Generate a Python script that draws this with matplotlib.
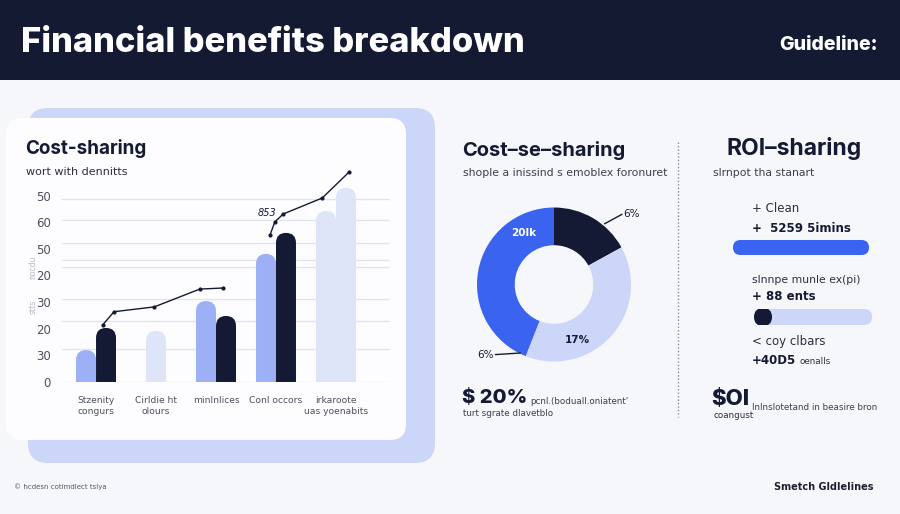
import numpy as np
import matplotlib.pyplot as plt
from matplotlib.patches import FancyBboxPatch, Rectangle

# bar chart (left card)
categories = ["Stzenity\ncongurs", "Cirldie ht\nolours", "minlnlices", "Conl occors", "irkaroote\nuas yoenabits"]
primary = [12.0, 19.2, 30.4, 48.1, 64.2]
secondary = [20.3, np.nan, 24.8, 56.0, 72.9]
faded = [False, True, False, False, True]
ytick_labels = ["0", "30", "20", "30", "20", "50", "60", "50"]
grid_levels = [68.8, 60.9, 52.3, 45.9, 43.2, 31.2, 22.9, 12.4, 0]
trend_a_x = [0.11, 0.30, 0.97, 1.73, 2.12]
trend_a_y = [21.4, 26.4, 28.2, 34.9, 35.3]
trend_b_x = [2.90, 2.98, 3.12, 3.77, 4.22]
trend_b_y = [55.2, 60.1, 63.1, 69.1, 78.9]

# donut (middle)
donut_values = [17, 39, 44]
donut_labels = ["6%", "17%", "20lk", "6%"]

# progress bars (right)
roi_progress = [100, 7]

NAVY = "#141a33"
BLUE = "#3a63ef"
LIGHT = "#9db0f5"
PALE = "#dfe5f8"
LAV = "#cbd6f8"
BG = "#f6f7fb"

fig = plt.figure(figsize=(9, 5.14), dpi=100)
fig.patch.set_facecolor(BG)


def px_axes(x, y, w, h, **kw):
    return fig.add_axes([x / 900, 1 - (y + h) / 514, w / 900, h / 514], **kw)


def px_per_unit(ax):
    (a0, b0), (a1, b1) = ax.transData.transform([(0, 0), (1, 1)])
    return a1 - a0, b1 - b0


def round_bar(ax, x0, y0, w, h, r_px, **kw):
    # radius in pixels -> data units on both axes
    sx, sy = px_per_unit(ax)
    rx, ry = r_px / sx, r_px / sy
    p = FancyBboxPatch((x0, y0), w, h, boxstyle=f"round,pad=0,rounding_size={rx}",
                       mutation_aspect=ry / rx, linewidth=0, **kw)
    ax.add_patch(p)


# background layer in pixel units
bg = px_axes(0, 0, 900, 514)
bg.set_xlim(0, 900)
bg.set_ylim(514, 0)
bg.axis("off")
bg.add_patch(Rectangle((0, 0), 900, 80, color="#151a33", lw=0))
bg.add_patch(FancyBboxPatch((28, 108), 407, 355, boxstyle="round,pad=0,rounding_size=20", color=LAV, lw=0))
bg.add_patch(FancyBboxPatch((6, 118), 400, 322, boxstyle="round,pad=0,rounding_size=16", color="#fdfdff", lw=0))
bg.plot([678, 678], [142, 417], color="#8a8e99", lw=1, ls=(0, (1, 1.5)))

TF = "Inter"
bg.text(21, 43, "Financial benefits breakdown", color="white", fontsize=24.8, fontweight="heavy",
        family=TF, va="center")
bg.text(878, 45, "Guideline:", color="white", fontsize=14, fontweight="heavy", family=TF,
        va="center", ha="right")

bg.text(25, 149, "Cost-sharing", color=NAVY, fontsize=13.6, fontweight="bold", family=TF, va="center")
bg.text(26, 172, "wort with dennitts", color="#2c3040", fontsize=8, va="center")
bg.text(33, 267, "nocdu", color="#b5b9c5", fontsize=5.5, rotation=90, va="center", ha="center")
bg.text(33, 307, "stts", color="#b5b9c5", fontsize=5.5, rotation=90, va="center", ha="center")

bg.text(462, 150, "Cost\u2013se\u2013sharing", color=NAVY, fontsize=14.5, fontweight="bold", family=TF, va="center")
bg.text(463, 173, "shople a inissind s emoblex foronuret", color="#3c404c", fontsize=7.8, va="center")
bg.text(462, 398, "$ 20%", color=NAVY, fontsize=14.5, fontweight="heavy", family=TF, va="center")
bg.text(530, 402, "pcnl.(boduall.oniatent'", color="#3c404c", fontsize=6.3, va="center")
bg.text(463, 414, "turt sgrate dlavetblo", color="#3c404c", fontsize=6.3, va="center")

bg.text(726, 149, "ROI\u2013sharing", color=NAVY, fontsize=16.5, fontweight="bold", family=TF, va="center")
bg.text(713, 173, "slrnpot tha stanart", color="#3c404c", fontsize=7.8, va="center")
bg.text(752, 209, "+ Clean", color="#2c3040", fontsize=8.5, va="center")
bg.text(752, 228, "+  5259 5imins", color=NAVY, fontsize=8.5, fontweight="bold", va="center")
bg.text(752, 280, "slnnpe munle ex(pi)", color="#2c3040", fontsize=7.8, va="center")
bg.text(752, 297, "+ 88 ents", color=NAVY, fontsize=8.5, fontweight="bold", va="center")
bg.text(752, 342, "< coy clbars", color="#2c3040", fontsize=8.5, va="center")
bg.text(752, 360, "+40D5", color=NAVY, fontsize=8.5, fontweight="bold", va="center")
bg.text(799, 361, "oenalls", color="#2c3040", fontsize=6.3, va="center")
bg.text(711, 399, "$OI", color=NAVY, fontsize=16, fontweight="heavy", family=TF, va="center")
bg.text(713, 415, "coangust", color="#2c3040", fontsize=6.3, va="center")
bg.text(752, 407, "lnlnslotetand in beasire bron", color="#3c404c", fontsize=6.3, va="center")

bg.text(14, 487, "\u00a9 hcdesn cotimdlect tslya", color="#555966", fontsize=5, va="center")
bg.text(873, 487, "Smetch Gldlelines", color="#1d2030", fontsize=7, fontweight="bold", va="center", ha="right")

# bar chart
ax = px_axes(62, 169, 328, 213)
ax.set_facecolor("none")
ax.set_xlim(-0.567, 4.9)
ax.set_ylim(0, 80)
for s in ax.spines.values():
    s.set_visible(False)
for g in grid_levels:
    ax.axhline(g, color="#e2e4eb", lw=1, zorder=0)
ax.set_yticks(np.arange(0, 80, 10), ytick_labels)
ax.set_xticks(range(len(categories)), categories)
ax.tick_params(length=0, labelsize=8.5, labelcolor="#4d5160", pad=8)
ax.tick_params(axis="x", labelsize=6.6, pad=10)
for lab in ax.get_xticklabels():
    lab.set_linespacing(1.3)

bw = 0.333
ry = 10 / px_per_unit(ax)[1]
for i, (a, b) in enumerate(zip(primary, secondary)):
    ca = PALE if faded[i] else LIGHT
    cb = PALE if faded[i] else NAVY
    if np.isnan(b):
        xs = [(i, a, ca)]
    else:
        xs = [(i - bw / 2, a, ca), (i + bw / 2, b, cb)]
    for xc, v, c in xs:
        round_bar(ax, xc - bw / 2, -ry, bw, v + ry, 10, color=c, zorder=2)

ax.plot(trend_a_x, trend_a_y, color=NAVY, lw=1, marker="o", ms=2, zorder=3, clip_on=False)
ax.plot(trend_b_x, trend_b_y, color=NAVY, lw=1, marker="o", ms=2, zorder=3, clip_on=False)
ax.text(3.0, 63.5, "853", fontsize=7, style="italic", color=NAVY, ha="right", va="center")

# donut
dax = px_axes(477, 207.5, 154, 154)
dax.pie(donut_values, colors=[NAVY, LAV, BLUE], startangle=90, counterclock=False,
        wedgeprops=dict(width=0.49, linewidth=0))
dax.set_xlim(-1, 1)
dax.set_ylim(-1, 1)
dax.set_aspect("equal")
dax.text(-0.40, 0.67, donut_labels[2], color="white", fontsize=7.5, fontweight="bold", ha="center", va="center")
dax.text(0.30, -0.72, donut_labels[1], color=NAVY, fontsize=7.5, fontweight="bold", ha="center", va="center")
dax.plot([0.66, 0.88], [0.79, 0.91], color=NAVY, lw=1, clip_on=False)
dax.text(0.90, 0.92, donut_labels[0], color=NAVY, fontsize=7.5, ha="left", va="center")
dax.plot([-0.44, -0.76], [-0.89, -0.91], color=NAVY, lw=1, clip_on=False)
dax.text(-0.78, -0.91, donut_labels[3], color=NAVY, fontsize=7.5, ha="right", va="center")

# progress bars
p1 = px_axes(733, 240, 136, 15)
p2 = px_axes(754, 309, 118, 16)
for pax in (p1, p2):
    pax.set_xlim(0, 100)
    pax.set_ylim(0, 1)
    pax.axis("off")
round_bar(p1, 0, 0, roi_progress[0], 1, 7.5, color=BLUE)
round_bar(p2, 0, 0, 100, 1, 8, color=LAV)
knob = max(roi_progress[1], 100 * 18 / 118)
round_bar(p2, 0, -0.06, knob, 1.12, 9, color=NAVY)

fig.savefig("out.png", dpi=100, facecolor=fig.get_facecolor())
